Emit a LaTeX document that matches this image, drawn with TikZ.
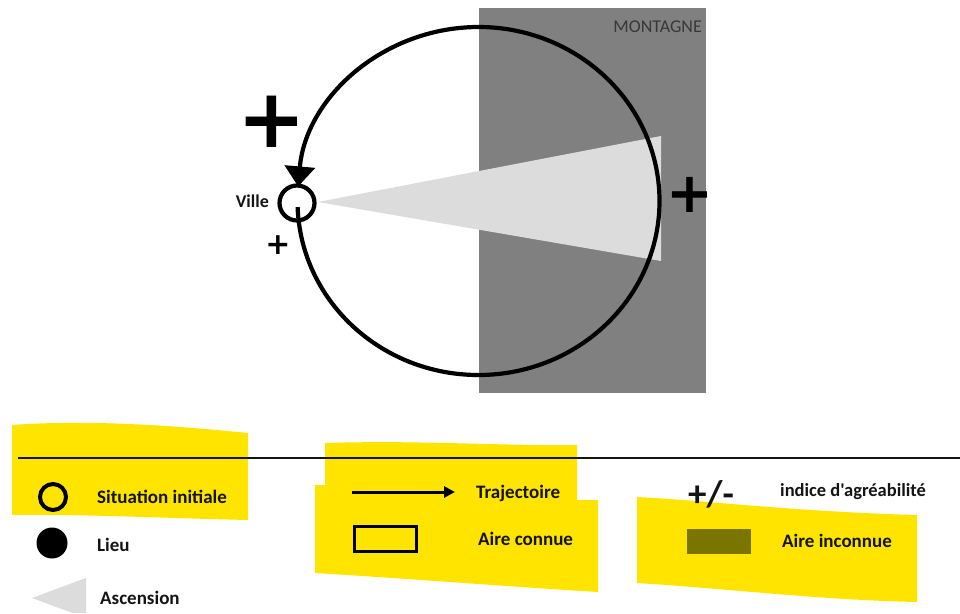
\documentclass[tikz,border=0pt]{standalone}
\usepackage{fontspec}
\setmainfont{Carlito}
\newfontfamily\plaincarlito{Carlito}
\newfontfamily\plusfont{DejaVu Sans}
\usetikzlibrary{arrows.meta,calc}
\definecolor{mountain}{RGB}{128,128,128}
\definecolor{ascgray}{RGB}{220,220,220}
\definecolor{hilite}{RGB}{255,228,0}
\definecolor{olive}{RGB}{122,116,0}
\definecolor{ink}{RGB}{20,20,20}
\tikzset{
  lbl/.style={anchor=base west, inner sep=0pt, text=ink, font=\fontsize{19}{19}\selectfont\bfseries},
  plussign/.style={inner sep=0pt, text=black, font=\plusfont\bfseries\fontsize{#1}{#1}\selectfont},
  traj/.style={draw=black, line width=4.2pt},
  hl/.style={fill=hilite, draw=none},
}
\begin{document}
\begin{tikzpicture}[x=1pt,y=-1pt]
\useasboundingbox[fill=white] (0,0) rectangle (960,613);

% ---------- main figure ----------
\fill[mountain] (479,8) rectangle (706,393);
\node[anchor=base east, inner sep=0pt, text=black!78, font=\fontsize{18}{18}\selectfont] (mont) at (702,32) {MONTAGNE};
\fill[ascgray] (318,202) -- (661,136) -- (661,261) -- cycle;

\coordinate (C) at (478.5,201);
\coordinate (tstart) at ($(C)+(182:181pt and 174pt)$);
\draw[traj, -{Triangle[length=20pt,width=30pt]}] (tstart) arc[start angle=182, end angle=535.2, x radius=181pt, y radius=174pt];

\node[draw=black, line width=4.2pt, circle, inner sep=0pt, minimum size=35pt] (ville) at (297,203) {};
\node[anchor=base east, inner sep=0pt, text=ink, font=\fontsize{18}{18}\selectfont\bfseries] (villetxt) at (269,207) {Ville};

\node[plussign=82] (p1) at (272,122) {+};
\node[plussign=56] (p2) at (690,195) {+};
\node[plussign=30] (p3) at (278,245) {+};

% ---------- legend ----------
\fill[hl] (12,425) .. controls (80,420) and (160,424) .. (248,433) -- (248,520) .. controls (160,518) and (80,514) .. (12,515) -- cycle;
\fill[hl] (325,443) .. controls (420,440) and (500,446) .. (577,445) -- (577,500) -- (598,500) -- (598,592)
  .. controls (500,586) and (400,578) .. (315,573) -- (315,485) -- (325,485) -- cycle;
\fill[hl] (637,497) .. controls (700,500) and (800,512) .. (917,515) -- (917,602)
  .. controls (820,600) and (720,588) .. (637,583) -- cycle;

\draw[draw=ink, line width=2pt] (18,458) -- (960,458);

\node[draw=black, line width=4pt, circle, inner sep=0pt, minimum size=26pt] (sit) at (53,497) {};
\node[lbl] (sittxt) at (97,503) {Situation initiale};

\node[fill=black, circle, inner sep=0pt, minimum size=31pt] (lieu) at (52,543) {};
\node[lbl] (lieutxt) at (97,551) {Lieu};

\fill[ascgray] (32,598) -- (86,578) -- (86,613) -- (72.5,613) -- cycle;
\node[lbl] (asctxt) at (100,604) {Ascension};

\coordinate (a1) at (352,492);
\coordinate (a2) at (455,492);
\draw[draw=black, line width=3pt, -{Triangle[length=11pt,width=11pt]}] (a1) -- (a2);
\node[lbl] (trajtxt) at (476,498) {Trajectoire};

\node[draw=black, line width=3.5pt, rectangle, inner sep=0pt, minimum width=62pt, minimum height=25pt] (connue) at (385.5,539) {};
\node[lbl] (connuetxt) at (478,545) {Aire connue};

\node[inner sep=0pt, text=ink, font=\fontsize{37}{37}\selectfont\bfseries] (pm) at (711,494) {+/-};
\node[lbl, font=\plaincarlito\fontsize{18.5}{18.5}\selectfont\bfseries] (indtxt) at (780,496) {indice d'agréabilité};

\node[fill=olive, rectangle, inner sep=0pt, minimum width=64pt, minimum height=25pt] (inconnue) at (719,541.5) {};
\node[lbl] (inctxt) at (782,547) {Aire inconnue};
\end{tikzpicture}
\end{document}
